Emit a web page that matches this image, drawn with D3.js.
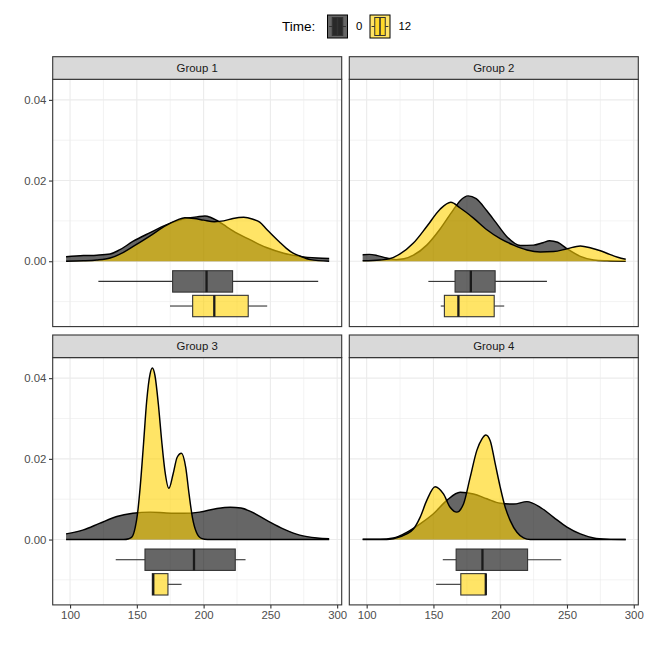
<!DOCTYPE html>
<html><head><meta charset="utf-8">
<script src="https://cdn.jsdelivr.net/npm/d3@7"></script>
<style>body{margin:0;background:#fff} svg{display:block;font-family:"Liberation Sans",Arial,sans-serif}</style>
</head><body><svg id="chart" width="646" height="646"></svg>
<script>
// ---------- data ----------
const groups = ["Group 1", "Group 2", "Group 3", "Group 4"];
const times = ["0", "12"];
const xTicks = [100, 150, 200, 250, 300];
const xMinor = [125, 175, 225, 275];
const yTicks = [0, 0.02, 0.04];
const yTickLabels = ["0.00", "0.02", "0.04"];
const yMinor = [-0.01, 0.01, 0.03];

// density estimates [value, density]
const densG1T0 = [[97,0.0011],[110,0.0014],[120,0.0015],[130,0.0018],[137,0.0028],[147,0.0049],[160,0.0071],[172,0.0090],[182,0.0102],[188,0.0107],[195,0.0110],[201,0.0112],[205,0.0109],[210,0.0101],[217,0.0086],[222,0.0075],[235,0.0053],[247,0.0034],[260,0.0020],[272,0.0012],[285,0.0008],[294,0.0007]];
const densG1T12 = [[97,0],[110,0.0001],[120,0.0003],[130,0.0008],[140,0.0022],[147,0.0036],[160,0.0063],[172,0.0089],[180,0.0102],[186,0.0108],[193,0.0106],[200,0.0102],[208,0.0098],[215,0.0100],[222,0.0106],[230,0.0109],[237,0.0104],[242,0.0097],[247,0.0080],[252,0.0063],[257,0.0047],[262,0.0032],[267,0.0020],[272,0.0013],[280,0.0004],[294,0]];
const densG2T0 = [[97,0.0016],[102,0.0017],[108,0.0014],[115,0.0008],[122,0.0004],[128,0.0006],[135,0.0015],[145,0.0040],[155,0.0080],[165,0.0128],[170,0.0150],[176,0.0162],[182,0.0155],[190,0.0125],[197,0.0095],[205,0.0061],[215,0.0039],[225,0.0040],[232,0.0046],[237,0.0051],[243,0.0047],[250,0.0031],[260,0.0012],[270,0.0003],[280,0.0001],[294,0]];
const densG2T12 = [[97,0.0001],[110,0.0003],[117,0.0006],[125,0.0018],[135,0.0045],[145,0.0086],[155,0.0129],[163,0.0146],[170,0.0132],[180,0.0107],[190,0.0078],[200,0.0056],[210,0.0040],[220,0.0028],[230,0.0023],[240,0.0024],[250,0.0031],[260,0.0038],[268,0.0033],[275,0.0026],[282,0.0017],[288,0.0010],[294,0.0005]];
const densG3T0 = [[97,0.0014],[110,0.0024],[122,0.0040],[135,0.0057],[147,0.0065],[160,0.0068],[172,0.0066],[185,0.0065],[197,0.0068],[210,0.0077],[220,0.0080],[228,0.0078],[235,0.0070],[247,0.0048],[260,0.0026],[272,0.0011],[285,0.0004],[294,0.0002]];
const densG3T12 = [[97,0],[140,0],[144,0.0002],[146.3,0.0006],[148.8,0.0030],[150.5,0.0064],[152.5,0.0130],[155,0.0237],[157.4,0.0344],[159.9,0.0410],[161.6,0.0425],[163.6,0.0406],[166.1,0.0336],[168.6,0.0245],[171,0.0171],[174,0.0127],[177.2,0.0163],[180.2,0.0204],[183.4,0.0214],[186.6,0.0179],[189.1,0.0113],[191.6,0.0055],[194.6,0.0018],[198.3,0.0003],[203,0],[294,0]];
const densG4T0 = [[97,0.0001],[110,0.0001],[120,0.0004],[130,0.0018],[140,0.0039],[150,0.0064],[160,0.0097],[170,0.0117],[180,0.0113],[190,0.0101],[200,0.0090],[210,0.0088],[220,0.0094],[230,0.0080],[240,0.0055],[250,0.0031],[260,0.0014],[270,0.0004],[280,0.0001],[294,0]];
const densG4T12 = [[97,0],[115,0],[120,0.0002],[130,0.0014],[135,0.0026],[140,0.0055],[145,0.0097],[151.25,0.0131],[157.5,0.0113],[162.5,0.0080],[167.5,0.0068],[172.5,0.0088],[177.5,0.0154],[182.5,0.0221],[186.25,0.0249],[189.25,0.0259],[192.5,0.0245],[196.25,0.0188],[200,0.0130],[203.75,0.0080],[207.5,0.0047],[212.5,0.0018],[217.5,0.0004],[222.5,0],[294,0]];

// boxplot stats [min, q1, median, q3, max]
const boxG1T0 = [121.2, 176.8, 202.2, 221.7, 285.8];
const boxG1T12 = [174.8, 191.8, 208.0, 233.4, 247.6];
const boxG2T0 = [146.2, 166.2, 178.0, 196.2, 235.0];
const boxG2T12 = [155.5, 158.2, 168.7, 195.5, 203.0];
const boxG3T0 = [134.2, 156.1, 192.8, 223.7, 231.4];
const boxG3T12 = [161.6, 161.6, 162.3, 173.3, 183.5];
const boxG4T0 = [157.0, 167.0, 186.7, 220.5, 245.7];
const boxG4T12 = [152.0, 170.5, 189.2, 189.4, 189.4];

const densities = [[densG1T0, densG1T12],[densG2T0, densG2T12],[densG3T0, densG3T12],[densG4T0, densG4T12]];
const boxes = [[boxG1T0, boxG1T12],[boxG2T0, boxG2T12],[boxG3T0, boxG3T12],[boxG4T0, boxG4T12]];

// ---------- style / layout ----------
const fillColors = ["#000000", "#FFD200"];
const fillOpacity = 0.6;
const panelLefts = [52.7, 349.3];
const stripTops = [56.7, 335];
const panelW = 289, stripH = 22.6, panelH = 247.3;
const xDomain = [87, 303.4];
const yDomain = [-0.0162, 0.0451];
const boxCenter = [-0.005, -0.0111];
const boxHalf = 0.00265;
const tickFont = 11.4;

const svg = d3.select("#chart");

groups.forEach((g, gi) => {
  const col = gi % 2, row = Math.floor(gi / 2);
  const left = panelLefts[col];
  const stripTop = stripTops[row];
  const top = stripTop + stripH;
  const bottom = top + panelH;
  const x = d3.scaleLinear().domain(xDomain).range([left, left + panelW]);
  const y = d3.scaleLinear().domain(yDomain).range([bottom, top]);
  const p = svg.append("g");

  p.append("rect").attr("x", left).attr("y", top).attr("width", panelW).attr("height", panelH).attr("fill", "#fff");
  // grid
  p.selectAll(".xm").data(xMinor).join("line").attr("x1", d => x(d)).attr("x2", d => x(d)).attr("y1", top).attr("y2", bottom).attr("stroke", "#EBEBEB").attr("stroke-width", 0.6);
  p.selectAll(".ym").data(yMinor).join("line").attr("y1", d => y(d)).attr("y2", d => y(d)).attr("x1", left).attr("x2", left + panelW).attr("stroke", "#EBEBEB").attr("stroke-width", 0.6);
  p.selectAll(".xg").data(xTicks).join("line").attr("x1", d => x(d)).attr("x2", d => x(d)).attr("y1", top).attr("y2", bottom).attr("stroke", "#EBEBEB").attr("stroke-width", 1.1);
  p.selectAll(".yg").data(yTicks).join("line").attr("y1", d => y(d)).attr("y2", d => y(d)).attr("x1", left).attr("x2", left + panelW).attr("stroke", "#EBEBEB").attr("stroke-width", 1.1);

  // densities
  const area = d3.area().x(d => x(d[0])).y0(y(0)).y1(d => y(Math.max(0, d[1]))).curve(d3.curveMonotoneX);
  const line = d3.line().x(d => x(d[0])).y(d => y(Math.max(0, d[1]))).curve(d3.curveMonotoneX);
  densities[gi].forEach((dens, ti) => {
    p.append("path").attr("d", area(dens)).attr("fill", fillColors[ti]).attr("fill-opacity", fillOpacity);
    p.append("path").attr("d", line(dens)).attr("fill", "none").attr("stroke", "#000").attr("stroke-width", 1.45).attr("stroke-linejoin", "round");
  });

  // boxplots
  boxes[gi].forEach((b, ti) => {
    const cy = y(boxCenter[ti]);
    const y0 = y(boxCenter[ti] + boxHalf), y1 = y(boxCenter[ti] - boxHalf);
    p.append("line").attr("x1", x(b[0])).attr("x2", x(b[1])).attr("y1", cy).attr("y2", cy).attr("stroke", "#333").attr("stroke-width", 1.1);
    p.append("line").attr("x1", x(b[3])).attr("x2", x(b[4])).attr("y1", cy).attr("y2", cy).attr("stroke", "#333").attr("stroke-width", 1.1);
    p.append("rect").attr("x", x(b[1])).attr("y", y0).attr("width", Math.max(0.5, x(b[3]) - x(b[1]))).attr("height", y1 - y0)
      .attr("fill", fillColors[ti]).attr("fill-opacity", fillOpacity).attr("stroke", "#333").attr("stroke-width", 1.1);
    p.append("line").attr("x1", x(b[2])).attr("x2", x(b[2])).attr("y1", y0).attr("y2", y1).attr("stroke", "#1a1a1a").attr("stroke-width", 2.3);
  });

  // panel border
  p.append("rect").attr("x", left).attr("y", top).attr("width", panelW).attr("height", panelH).attr("fill", "none").attr("stroke", "#333").attr("stroke-width", 1.1);
  // strip
  p.append("rect").attr("x", left).attr("y", stripTop).attr("width", panelW).attr("height", stripH).attr("fill", "#D9D9D9").attr("stroke", "#333").attr("stroke-width", 1.1);
  p.append("text").attr("x", left + panelW / 2).attr("y", stripTop + stripH / 2).attr("dy", "0.35em").attr("text-anchor", "middle")
    .attr("font-size", tickFont).attr("fill", "#1A1A1A").text(g);

  // axes
  if (col === 0) {
    const ax = d3.axisLeft(y).tickValues(yTicks).tickFormat((d, i) => yTickLabels[i]).tickSize(3.7).tickPadding(2.6);
    const ga = p.append("g").attr("transform", `translate(${left},0)`).call(ax);
    ga.select(".domain").remove();
    ga.selectAll("line").attr("stroke", "#333").attr("stroke-width", 1.1);
    ga.selectAll("text").attr("fill", "#4D4D4D").attr("font-size", tickFont).attr("font-family", "Liberation Sans, Arial, sans-serif");
  }
  if (row === 1) {
    const ax = d3.axisBottom(x).tickValues(xTicks).tickFormat(d3.format("d")).tickSize(3.7).tickPadding(2.6);
    const ga = p.append("g").attr("transform", `translate(0,${bottom})`).call(ax);
    ga.select(".domain").remove();
    ga.selectAll("line").attr("stroke", "#333").attr("stroke-width", 1.1);
    ga.selectAll("text").attr("fill", "#4D4D4D").attr("font-size", tickFont).attr("font-family", "Liberation Sans, Arial, sans-serif");
  }
});

// ---------- legend ----------
const leg = svg.append("g");
leg.append("text").attr("x", 282).attr("y", 26.5).attr("dy", "0.35em").attr("font-size", 13.5).attr("fill", "#000").text("Time:");
const keyX = [327, 369.5], labX = [356, 398.5];
const kw = 21, kh = 24, ky = 14.5;
times.forEach((t, ti) => {
  const k = leg.append("g").attr("transform", `translate(${keyX[ti]},${ky})`);
  k.append("rect").attr("x", 0.5).attr("y", 0.5).attr("width", kw - 1).attr("height", kh - 1)
    .attr("fill", fillColors[ti]).attr("fill-opacity", fillOpacity).attr("stroke", "#000").attr("stroke-width", 1);
  k.append("line").attr("x1", 0.1 * kw).attr("x2", 0.25 * kw).attr("y1", kh / 2).attr("y2", kh / 2).attr("stroke", "#333");
  k.append("line").attr("x1", 0.75 * kw).attr("x2", 0.9 * kw).attr("y1", kh / 2).attr("y2", kh / 2).attr("stroke", "#333");
  k.append("rect").attr("x", 0.25 * kw).attr("y", 0.125 * kh).attr("width", 0.5 * kw).attr("height", 0.75 * kh)
    .attr("fill", fillColors[ti]).attr("fill-opacity", fillOpacity).attr("stroke", "#333").attr("stroke-width", 1);
  k.append("line").attr("x1", 0.5 * kw).attr("x2", 0.5 * kw).attr("y1", 0.125 * kh).attr("y2", 0.875 * kh).attr("stroke", "#333").attr("stroke-width", 1.6);
  leg.append("text").attr("x", labX[ti]).attr("y", 26.5).attr("dy", "0.35em").attr("font-size", tickFont).attr("fill", "#000").text(t);
});
</script></body></html>
